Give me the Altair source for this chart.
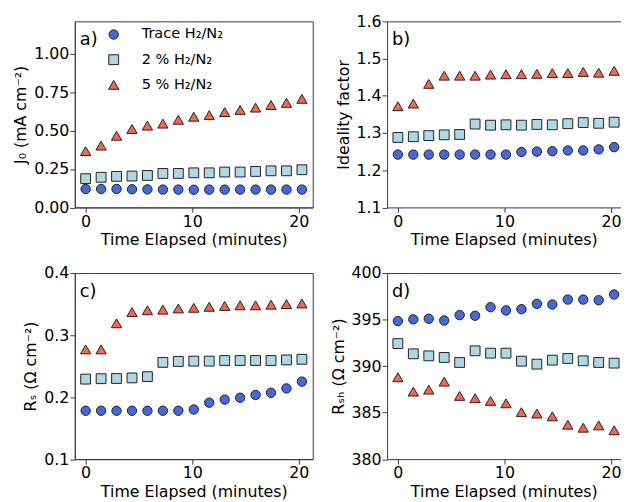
import altair as alt
import pandas as pd

# ---- data ----
time_min = [0, 1.45, 2.9, 4.35, 5.8, 7.25, 8.7, 10.15, 11.6, 13.05, 14.5, 15.95, 17.4, 18.85, 20.3]
series_names = ["Trace H₂/N₂", "2 % H₂/N₂", "5 % H₂/N₂"]

j0_trace = [0.120, 0.120, 0.120, 0.118, 0.117, 0.116, 0.116, 0.115, 0.116, 0.116, 0.116, 0.116, 0.116, 0.116, 0.116]
j0_two = [0.187, 0.196, 0.202, 0.204, 0.208, 0.221, 0.221, 0.225, 0.225, 0.230, 0.230, 0.234, 0.238, 0.238, 0.245]
j0_five = [0.366, 0.402, 0.466, 0.510, 0.532, 0.545, 0.570, 0.590, 0.600, 0.620, 0.634, 0.649, 0.666, 0.680, 0.706]

n_trace = [1.242, 1.242, 1.242, 1.242, 1.242, 1.242, 1.242, 1.242, 1.249, 1.250, 1.251, 1.253, 1.253, 1.256, 1.262]
n_two = [1.288, 1.290, 1.293, 1.295, 1.296, 1.324, 1.321, 1.322, 1.321, 1.323, 1.322, 1.325, 1.328, 1.326, 1.329]
n_five = [1.372, 1.379, 1.432, 1.454, 1.454, 1.454, 1.457, 1.458, 1.458, 1.459, 1.461, 1.461, 1.464, 1.462, 1.467]

rs_trace = [0.178, 0.178, 0.178, 0.178, 0.178, 0.178, 0.178, 0.180, 0.191, 0.196, 0.199, 0.2035, 0.207, 0.214, 0.225]
rs_two = [0.229, 0.2297, 0.230, 0.231, 0.233, 0.256, 0.2575, 0.258, 0.258, 0.259, 0.259, 0.259, 0.259, 0.260, 0.261]
rs_five = [0.277, 0.277, 0.319, 0.337, 0.340, 0.341, 0.343, 0.344, 0.3456, 0.347, 0.348, 0.348, 0.349, 0.350, 0.351]

rsh_trace = [394.84, 395.02, 395.09, 394.90, 395.48, 395.41, 396.33, 395.98, 396.12, 396.69, 396.62, 397.15, 397.15, 397.08, 397.69]
rsh_two = [392.42, 391.32, 391.10, 390.93, 390.39, 391.64, 391.39, 391.39, 390.53, 390.21, 390.64, 390.82, 390.57, 390.39, 390.32]
rsh_five = [388.80, 387.26, 387.47, 388.33, 386.80, 386.55, 386.26, 386.00, 385.05, 384.90, 384.60, 383.70, 383.38, 383.63, 383.10]

x_ticks = [0, 10, 20]

FONT = "DejaVu Sans"
FRAME = "#3a3a3a"
EDGE = "#222222"
fills = ["#4169E1", "#ADD8E6", "#FF6347"]
edges = [EDGE, EDGE, EDGE]
shapes = ["circle", "square", "triangle-up"]
sizes = [90, 108, 150]


def long_df(trace, two, five):
    rows = []
    for i, (name, vals) in enumerate(zip(series_names, [trace, two, five])):
        for t, v in zip(time_min, vals):
            rows.append({"t": t, "v": v, "series": name, "order": i})
    return pd.DataFrame(rows)


def panel(df, ydom, yticks, ytitle, fmt, xdom, width, height, label, legend=False, right_border=True):
    leg = None
    if legend:
        leg = alt.Legend(
            title=None, orient="none", legendX=32, legendY=6,
            labelFont=FONT, labelFontSize=14.7, labelColor="black",
            symbolStrokeWidth=1, symbolOpacity=1,
            labelOffset=21, rowPadding=9.5, padding=0,
        )
    x_axis = alt.Axis(
        values=x_ticks, title="Time Elapsed (minutes)", orient="bottom",
        grid=False, tickSize=5, labelPadding=1, titlePadding=3, format="d",
    )
    y_axis = alt.Axis(values=yticks, title=ytitle, grid=False, format=fmt,
                      tickSize=5, labelPadding=1, titlePadding=5)
    pts = alt.Chart(df).mark_point(filled=True, opacity=1, strokeWidth=1).encode(
        x=alt.X("t:Q", scale=alt.Scale(domain=xdom, nice=False, zero=False), axis=x_axis),
        y=alt.Y("v:Q", scale=alt.Scale(domain=ydom, nice=False, zero=False), axis=y_axis),
        color=alt.Color("series:N", scale=alt.Scale(domain=series_names, range=fills), legend=leg),
        stroke=alt.Stroke("series:N", scale=alt.Scale(domain=series_names, range=edges), legend=leg),
        shape=alt.Shape("series:N", scale=alt.Scale(domain=series_names, range=shapes), legend=leg),
        size=alt.Size("series:N", scale=alt.Scale(domain=series_names, range=sizes), legend=leg),
        order=alt.Order("order:Q"),
    )
    txt = alt.Chart(pd.DataFrame({"lab": [label]})).mark_text(
        align="left", baseline="middle", font=FONT, fontSize=18, color="black"
    ).encode(x=alt.value(5), y=alt.value(19), text="lab:N")
    layers = [pts, txt]
    if not right_border:
        top = alt.Chart(df).mark_point(opacity=0).encode(
            x=alt.X("t:Q", scale=alt.Scale(domain=xdom, nice=False, zero=False),
                    axis=alt.Axis(orient="top", labels=False, ticks=False, title=None, grid=False)),
        )
        layers.append(top)
    ch = alt.layer(*layers).properties(width=width, height=height)
    if not right_border:
        ch = ch.properties(view=alt.ViewBackground(strokeOpacity=0))
    return ch


xa = [-1.015, 21.315]
xb = [-1.015, 20.9]
wa = 241
wb = round((xb[1] - xb[0]) * wa / (xa[1] - xa[0]), 1)
h = 188.5

pa = panel(long_df(j0_trace, j0_two, j0_five), [0, 1.21], [0, 0.25, 0.5, 0.75, 1.0],
           "J₀ (mA cm⁻²)", ".2f", xa, wa, h, "a)", legend=True)
pb = panel(long_df(n_trace, n_two, n_five), [1.1, 1.6], [1.1, 1.2, 1.3, 1.4, 1.5, 1.6],
           "Ideality factor", ".1f", xb, wb, h, "b)", right_border=False)
pc = panel(long_df(rs_trace, rs_two, rs_five), [0.1, 0.4], [0.1, 0.2, 0.3, 0.4],
           "Rₛ (Ω cm⁻²)", ".1f", xa, wa, h, "c)")
pd_ = panel(long_df(rsh_trace, rsh_two, rsh_five), [380, 400], [380, 385, 390, 395, 400],
            "Rₛₕ (Ω cm⁻²)", "d", xb, wb, h, "d)", right_border=False)

# fixed canvas: plot area of panel a starts at (67.7, 10.3) inside a 622 x 494 svg
chart = alt.concat(pa, pb, pc, pd_, columns=2, bounds="flush",
                   spacing={"row": 66, "column": 75.3}).properties(
    autosize=alt.AutoSizeParams(type="none"),
    padding={"left": 67.7, "top": 10.3, "right": 554.3, "bottom": 483.7},
    background="white",
).configure_view(
    stroke=FRAME, strokeWidth=1
).configure_axis(
    labelFont=FONT, titleFont=FONT, labelFontSize=16, titleFontSize=16,
    titleFontWeight="normal", labelColor="black", titleColor="black",
    domainColor=FRAME, tickColor=FRAME, domainWidth=1, tickWidth=1,
)

chart.save("out.html", embed_options={"renderer": "svg", "actions": False})
